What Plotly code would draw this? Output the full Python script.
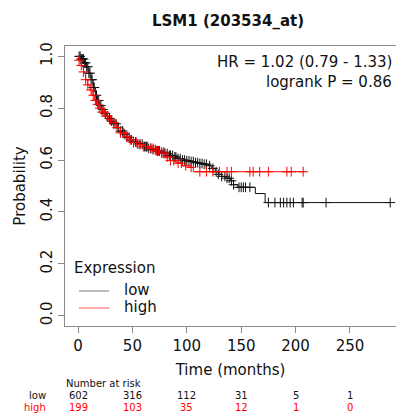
import numpy as np
import plotly.graph_objects as go

# ---------------- data ----------------
low_t = [0, 3, 6, 8, 10, 12, 14, 16, 18, 20, 22, 24, 26, 28, 30, 33, 36, 39, 42, 45, 48, 51,
         55, 60, 64, 68, 72, 76, 80, 84, 88, 92, 96, 100, 104, 108, 112, 116, 120, 123, 126,
         129, 132, 136, 140, 143, 147, 163, 172]
low_s = [1.0, 0.99, 0.975, 0.96, 0.935, 0.91, 0.88, 0.85, 0.83, 0.81, 0.795, 0.78, 0.77, 0.76,
         0.75, 0.74, 0.725, 0.712, 0.70, 0.688, 0.678, 0.67, 0.662, 0.652, 0.645, 0.64, 0.635,
         0.63, 0.625, 0.618, 0.612, 0.606, 0.60, 0.597, 0.594, 0.59, 0.587, 0.584, 0.578,
         0.568, 0.555, 0.545, 0.537, 0.53, 0.52, 0.505, 0.495, 0.471, 0.436]
low_end = 287
low_cens = [1, 2, 3, 4, 5, 6, 7, 8, 9, 10, 11, 12, 13, 14, 15, 17, 19, 21, 23, 25, 27, 29, 31,
            33, 35, 37, 39, 41, 43, 45, 47, 49, 51, 53, 55, 57, 59, 61, 63, 65, 67, 69, 71, 73,
            75, 77, 79, 80, 82, 84, 85, 87, 89, 90, 92, 94, 96, 98, 100, 102, 104, 106, 108,
            110, 112, 114, 116, 118, 121, 124, 127, 129, 132, 135, 137, 139, 141, 143, 148,
            150, 152, 154, 158, 175, 181, 186, 189, 192, 195, 198, 206, 207, 228, 287]

high_t = [0, 1, 3, 5, 7, 9, 11, 13, 15, 17, 19, 22, 25, 28, 31, 35, 39, 43, 47, 51, 55, 60,
          65, 70, 75, 80, 84, 90, 96, 102, 106]
high_s = [1.0, 0.985, 0.965, 0.94, 0.91, 0.89, 0.87, 0.85, 0.83, 0.815, 0.80, 0.785, 0.77,
          0.755, 0.745, 0.725, 0.705, 0.69, 0.678, 0.668, 0.66, 0.652, 0.645, 0.636, 0.626,
          0.612, 0.598, 0.588, 0.578, 0.572, 0.555]
high_end = 207
high_cens = [1, 3, 5, 7, 9, 12, 14, 16, 18, 20, 22, 24, 27, 30, 33, 36, 39, 42, 45, 48, 51, 54,
             57, 60, 62, 64, 67, 69, 72, 74, 77, 79, 82, 85, 88, 92, 95, 99, 104, 112, 118,
             124, 130, 137, 141, 158, 161, 167, 175, 192, 196, 207]

risk_times = [0, 50, 100, 150, 200, 250]
risk_low = [602, 316, 112, 31, 5, 1]
risk_high = [199, 103, 35, 12, 1, 0]

x_ticks = [0, 50, 100, 150, 200, 250]
y_ticks = [0.0, 0.2, 0.4, 0.6, 0.8, 1.0]

title_text = "LSM1 (203534_at)"
hr_text = "HR = 1.02 (0.79 - 1.33)"
p_text = "logrank P = 0.86"

# ---------------- styling ----------------
FONT = "DejaVu Sans"
BLACK = "#111111"
RED = "#ff0000"
AXIS = "#8a8a8a"

W, H = 396, 414
ML, MR, MT, MB = 65, 0, 46, 88
PW = W - ML - MR
PH = H - MT - MB


def px_x(px):
    return (px - ML) / PW


def px_y(py):
    return (H - MB - py) / PH


def step_value(times, surv, t):
    idx = np.searchsorted(np.asarray(times), t, side="right") - 1
    return np.asarray(surv)[idx]


fig = go.Figure()

for times, surv, end, cens, col in [
    (low_t, low_s, low_end, low_cens, BLACK),
    (high_t, high_s, high_end, high_cens, RED),
]:
    xs = list(times) + [end]
    ys = list(surv) + [surv[-1]]
    fig.add_trace(go.Scatter(x=xs, y=ys, mode="lines", line=dict(color=col, width=1, shape="hv"),
                             showlegend=False, hoverinfo="skip"))
    cy = step_value(times, surv, np.asarray(cens))
    fig.add_trace(go.Scatter(x=cens, y=cy, mode="markers",
                             marker=dict(symbol="cross-thin", size=7,
                                         line=dict(color=col, width=1)),
                             showlegend=False, hoverinfo="skip"))

fig.update_layout(
    width=W, height=H,
    margin=dict(l=ML, r=MR, t=MT, b=MB),
    paper_bgcolor="white", plot_bgcolor="white",
    font=dict(family=FONT, size=15, color=BLACK),
    showlegend=False,
)
fig.update_xaxes(
    range=[-11.95, 292.3], tickvals=x_ticks, ticktext=[str(v) for v in x_ticks],
    showgrid=False, zeroline=False, showline=True, mirror=True, linecolor=AXIS, linewidth=1,
    ticks="outside", ticklen=6, tickcolor=AXIS, tickfont=dict(size=15, color=BLACK),
    title=dict(text="Time (months)", font=dict(size=15, color=BLACK), standoff=10),
)
fig.update_yaxes(
    range=[-0.04, 1.04], tickvals=y_ticks, ticktext=[f"{v:.1f}" for v in y_ticks],
    showgrid=False, zeroline=False, showline=True, mirror=False, linecolor=AXIS, linewidth=1,
    ticks="outside", ticklen=6, tickcolor=AXIS, tickangle=-90, tickfont=dict(size=15, color=BLACK),
    title=dict(text="Probability", font=dict(size=15, color=BLACK), standoff=8),
)

ann = []
ann.append(dict(text=f"<b>{title_text}</b>", x=px_x(228), y=px_y(21), xref="paper", yref="paper",
                showarrow=False, font=dict(size=15, family=FONT, color=BLACK), xanchor="center", yanchor="middle"))
ann.append(dict(text=hr_text, x=px_x(394), y=px_y(62), xref="paper", yref="paper", showarrow=False,
                font=dict(size=15, family=FONT, color=BLACK), xanchor="right", yanchor="middle"))
ann.append(dict(text=p_text, x=px_x(394), y=px_y(82), xref="paper", yref="paper", showarrow=False,
                font=dict(size=15, family=FONT, color=BLACK), xanchor="right", yanchor="middle"))
# legend
ann.append(dict(text="Expression", x=px_x(72), y=px_y(268), xref="paper", yref="paper", showarrow=False,
                font=dict(size=15, family=FONT, color=BLACK), xanchor="left", yanchor="middle"))
ann.append(dict(text="low", x=px_x(122), y=px_y(290), xref="paper", yref="paper", showarrow=False,
                font=dict(size=15, family=FONT, color=BLACK), xanchor="left", yanchor="middle"))
ann.append(dict(text="high", x=px_x(122), y=px_y(307), xref="paper", yref="paper", showarrow=False,
                font=dict(size=15, family=FONT, color=BLACK), xanchor="left", yanchor="middle"))
# number at risk
RF = 10
ann.append(dict(text="Number at risk", x=0, y=px_y(383), xref="paper", yref="paper", showarrow=False,
                borderpad=0, font=dict(size=RF, family=FONT, color=BLACK), xanchor="left", yanchor="middle"))
ann.append(dict(text="low", x=px_x(47), y=px_y(395.5), xref="paper", yref="paper", showarrow=False,
                borderpad=0, font=dict(size=RF, family=FONT, color=BLACK), xanchor="right", yanchor="middle"))
ann.append(dict(text="high", x=px_x(47), y=px_y(407.5), xref="paper", yref="paper", showarrow=False,
                borderpad=0, font=dict(size=RF, family=FONT, color=RED), xanchor="right", yanchor="middle"))
for t, a, b in zip(risk_times, risk_low, risk_high):
    ann.append(dict(text=str(a), x=t, y=px_y(395.5), xref="x", yref="paper", showarrow=False,
                    borderpad=0, font=dict(size=RF, family=FONT, color=BLACK), xanchor="center", yanchor="middle"))
    ann.append(dict(text=str(b), x=t, y=px_y(407.5), xref="x", yref="paper", showarrow=False,
                    borderpad=0, font=dict(size=RF, family=FONT, color=RED), xanchor="center", yanchor="middle"))
fig.update_layout(annotations=ann)

shapes = [
    dict(type="line", xref="paper", yref="paper", x0=px_x(79), x1=px_x(109), y0=px_y(291), y1=px_y(291),
         line=dict(color="#777777", width=1)),
    dict(type="line", xref="paper", yref="paper", x0=px_x(79), x1=px_x(109), y0=px_y(308), y1=px_y(308),
         line=dict(color="#ff5555", width=1)),
]
fig.update_layout(shapes=shapes)

fig.write_html("out.html")
